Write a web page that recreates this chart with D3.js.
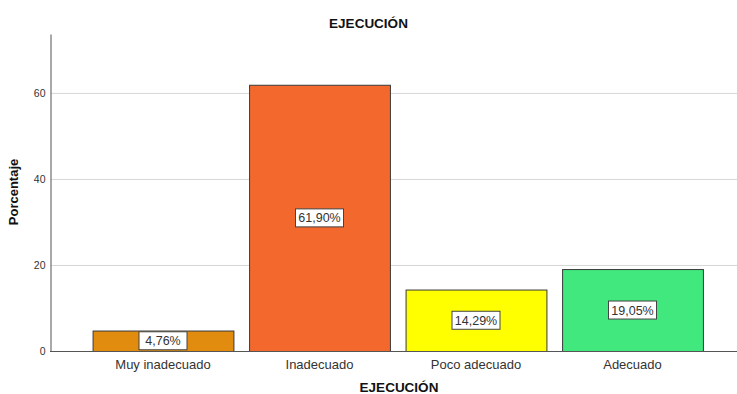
<!DOCTYPE html>
<html>
<head>
<meta charset="utf-8">
<script src="https://cdn.jsdelivr.net/npm/d3@7"></script>
<style>
  html, body { margin: 0; padding: 0; background: #fff; }
  svg { display: block; font-family: Arial, "Liberation Sans", sans-serif; }
</style>
</head>
<body>
<svg id="chart" width="737" height="394"></svg>
<script>
// Distribución porcentual de la variable EJECUCIÓN
const categories = ["Muy inadecuado", "Inadecuado", "Poco adecuado", "Adecuado"];
const percentages = [4.76, 61.90, 14.29, 19.05];
const barColors = ["#E18B0F", "#F3692D", "#FFFF00", "#40E87E"];
const yTicks = [0, 20, 40, 60];

const svg = d3.select("#chart");
const W = 737, H = 394;
const plot = { left: 50, right: 737, top: 34, bottom: 351 };

const x = d3.scaleBand()
  .domain(categories)
  .range([84.75, 710.75])
  .paddingInner(0.1)
  .paddingOuter(0.05);

const y = d3.scaleLinear()
  .domain([0, 73.7])
  .range([plot.bottom, plot.top]);

// Gridlines
svg.append("g")
  .selectAll("line")
  .data(yTicks.filter(d => d > 0))
  .join("line")
  .attr("x1", plot.left)
  .attr("x2", plot.right)
  .attr("y1", d => y(d) + 0.5)
  .attr("y2", d => y(d) + 0.5)
  .attr("stroke", "#d6d6d6")
  .attr("stroke-width", 1);

// Y axis
const yAxis = svg.append("g")
  .attr("transform", `translate(${plot.left + 0.5},0)`)
  .call(d3.axisLeft(y).tickValues(yTicks).tickSize(0).tickPadding(5).tickFormat(d3.format("d")));
yAxis.select(".domain").attr("stroke", "#8c8c8c").attr("stroke-width", 1.5);
yAxis.selectAll("text").attr("font-size", 10.5).attr("fill", "#333").attr("font-family", "Arial, 'Liberation Sans', sans-serif");

// Bars
svg.append("g")
  .selectAll("rect")
  .data(categories)
  .join("rect")
  .attr("x", d => x(d) + 0.5)
  .attr("y", (d, i) => y(percentages[i]) + 0.5)
  .attr("width", x.bandwidth())
  .attr("height", (d, i) => y(0) - y(percentages[i]))
  .attr("fill", (d, i) => barColors[i])
  .attr("stroke", "#3a3a3a")
  .attr("stroke-width", 1);

// X axis
const xAxis = svg.append("g")
  .attr("transform", `translate(0,${plot.bottom + 0.5})`)
  .call(d3.axisBottom(x).tickSize(0).tickPadding(8));
xAxis.select(".domain").attr("d", `M${plot.left},0H${plot.right}`).attr("stroke", "#555").attr("stroke-width", 1.2);
xAxis.selectAll("text").attr("font-size", 13).attr("fill", "#333").attr("font-family", "Arial, 'Liberation Sans', sans-serif");

// Value labels
const fmt = v => v.toFixed(2).replace(".", ",") + "%";
const labels = svg.append("g")
  .selectAll("g")
  .data(categories)
  .join("g")
  .attr("transform", (d, i) => {
    const cx = x(d) + x.bandwidth() / 2;
    const cy = Math.min((y(percentages[i]) + y(0)) / 2, y(0) - 9);
    return `translate(${cx},${cy})`;
  });
labels.append("rect")
  .attr("x", -24)
  .attr("y", -9)
  .attr("width", 48)
  .attr("height", 18)
  .attr("fill", "#fff")
  .attr("stroke", "#444")
  .attr("stroke-width", 1);
labels.append("text")
  .attr("text-anchor", "middle")
  .attr("dy", "0.36em")
  .attr("font-size", 12.5)
  .attr("fill", "#333")
  .text((d, i) => fmt(percentages[i]));

// Titles
svg.append("text")
  .attr("x", W / 2)
  .attr("y", 28)
  .attr("text-anchor", "middle")
  .attr("font-size", 13.5)
  .attr("font-weight", "bold")
  .attr("fill", "#111")
  .text("EJECUCIÓN");

svg.append("text")
  .attr("x", 399)
  .attr("y", 392)
  .attr("text-anchor", "middle")
  .attr("font-size", 13.5)
  .attr("font-weight", "bold")
  .attr("fill", "#111")
  .text("EJECUCIÓN");

svg.append("text")
  .attr("transform", `translate(18,192) rotate(-90)`)
  .attr("text-anchor", "middle")
  .attr("font-size", 13)
  .attr("font-weight", "bold")
  .attr("fill", "#111")
  .text("Porcentaje");
</script>
</body>
</html>
